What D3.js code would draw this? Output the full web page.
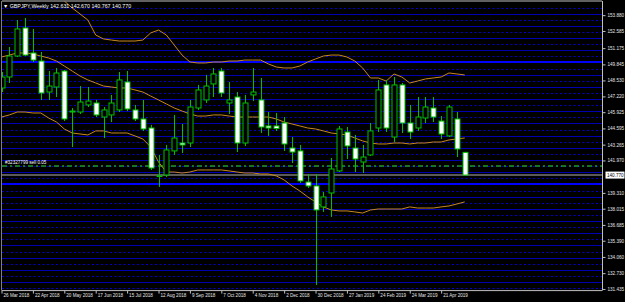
<!DOCTYPE html>
<html>
<head>
<meta charset="utf-8">
<script src="https://cdn.jsdelivr.net/npm/d3@7"></script>
<style>
  body { margin: 0; background: #000; }
  svg { display: block; }
  text { font-family: "Liberation Sans", Arial, sans-serif; }
</style>
</head>
<body>
<svg width="625" height="302"></svg>
<script>
// weekly GBPJPY candles, week 0 = 25 Mar 2018
const opens = [147.91,148.81,150.53,152.83,150.78,150.12,147.58,147.99,149.30,146.02,
  145.94,146.52,146.68,145.53,145.70,146.11,148.40,146.11,145.37,144.63,
  140.70,140.78,142.75,143.40,143.40,146.27,146.93,148.24,149.30,146.68,
  147.17,143.40,147.34,146.93,144.80,144.80,145.04,142.99,142.75,140.20,
  139.88,138.16,139.30,141.11,144.30,142.99,141.84,142.42,144.63,148.16,
  143.89,148.16,145.04,144.63,145.45,146.27,145.20,143.98,145.37,142.631];
const highs = [149.22,151.27,153.48,153.65,152.75,150.86,149.30,149.55,149.39,146.27,
  148.07,147.99,146.93,146.35,147.34,149.22,149.30,146.52,146.93,144.88,
  142.42,143.24,145.70,144.96,146.93,148.16,148.98,149.55,149.55,148.40,
  147.58,147.34,149.55,148.73,145.94,145.86,145.53,143.89,143.24,140.86,
  140.86,139.39,142.17,144.80,144.71,144.06,143.24,145.04,148.57,148.57,
  148.81,148.32,146.52,147.17,147.17,147.17,145.61,146.52,145.94,142.670];
const lows = [147.58,148.32,150.45,150.53,150.04,146.93,146.93,147.17,145.20,143.07,
  145.78,146.35,145.53,143.81,145.12,145.94,146.02,145.20,144.39,141.19,
  139.80,140.61,142.42,142.58,143.07,146.11,146.68,147.17,147.17,145.78,
  142.66,143.16,146.84,144.22,143.98,144.39,142.75,141.76,140.12,139.71,
  131.76,137.75,137.34,141.02,142.09,141.02,140.94,142.34,144.30,144.30,
  143.48,144.22,143.73,144.39,145.04,145.12,143.73,143.89,142.25,140.767];
const closes = [148.81,150.53,152.75,150.61,150.20,147.50,148.07,149.14,145.37,145.94,
  146.76,146.84,145.70,146.11,146.68,148.57,146.19,145.37,144.55,141.35,
  140.66,142.83,143.81,143.24,146.35,147.75,148.07,149.06,147.50,146.93,
  143.40,146.68,147.58,144.71,144.63,144.59,143.32,142.66,140.29,139.88,
  137.91,138.98,141.27,144.55,143.16,142.09,142.25,144.39,147.75,144.63,
  148.16,145.04,144.30,145.53,146.35,145.53,144.14,146.35,142.91,140.770];

// Bollinger bands (upper starts above the window)
const bbUpper = [null,null,null,null,null,null,null,155.6,155.04,154.47,
  153.98,153.48,152.25,151.93,151.84,151.76,151.76,151.76,151.84,152.42,
  152.66,152.25,151.43,150.61,150.04,149.96,149.96,150.04,150.04,150.12,
  150.12,150.20,150.20,150.20,149.88,149.63,149.55,149.55,149.71,150.04,
  150.29,150.53,150.61,150.61,150.45,150.12,149.55,148.73,148.73,148.48,
  149.06,148.81,148.32,148.48,148.65,148.73,148.81,149.14,149.06,148.98];
const bbMiddle = [150.45,150.61,150.78,150.78,150.70,150.53,150.37,150.12,149.71,149.30,
  148.89,148.57,148.32,148.07,147.99,147.91,147.91,147.75,147.58,147.25,
  146.93,146.60,146.27,146.02,145.78,145.61,145.61,145.70,145.70,145.61,
  145.53,145.53,145.53,145.53,145.53,145.37,145.12,144.96,144.80,144.63,
  144.55,144.39,144.22,144.14,144.06,143.81,143.57,143.40,143.32,143.32,
  143.40,143.40,143.32,143.40,143.40,143.48,143.48,143.65,143.73,143.81];
const bbLower = [145.53,145.70,145.94,145.94,145.86,145.86,145.45,145.12,144.55,144.22,
  144.14,144.06,144.39,144.39,144.22,144.22,144.22,143.98,143.73,143.07,
  141.84,141.02,141.02,140.94,141.02,141.19,141.19,141.19,141.19,141.11,
  141.02,140.94,140.94,140.86,140.86,140.70,140.37,139.88,139.47,138.98,
  138.57,138.16,137.91,137.83,137.83,137.75,137.66,137.91,137.99,137.99,
  137.99,137.99,138.16,138.07,138.07,138.07,138.16,138.24,138.40,138.57];

const priceTicks = [153.880,152.585,151.175,149.845,148.530,147.220,145.925,144.595,143.265,
  141.970,139.310,138.015,136.685,135.390,134.060,132.730,131.435];
const timeTickIdx = [0,4,8,12,16,20,24,28,32,36,40,44,48,52,56];
const timeTickLabels = ['26 Mar 2018','22 Apr 2018','20 May 2018','17 Jun 2018','15 Jul 2018',
  '12 Aug 2018','9 Sep 2018','7 Oct 2018','4 Nov 2018','2 Dec 2018','30 Dec 2018',
  '27 Jan 2019','24 Feb 2019','24 Mar 2019','21 Apr 2019'];

const solidLevels = d3.range(132, 155, 1);
const dottedLevels = d3.range(131.5, 155, 1);
const thickLevels = [140, 150];
const bidPrice = 140.770;
const orderPrice = 141.52;

const svg = d3.select('svg');
const plotL = 2, plotR = 602, plotT = 1.5, plotB = 290.6;
const fs = '4.6px';

svg.append('rect').attr('width', 625).attr('height', 302).attr('fill', '#000');

const x = d3.scaleLinear().domain([0, 59]).range([1.5, 464.7]);
const y = d3.scaleLinear().domain([131.3, 155.0]).range([plotB, plotT]);

svg.append('clipPath').attr('id', 'plot')
  .append('rect').attr('x', plotL).attr('y', plotT).attr('width', plotR - plotL).attr('height', plotB - plotT);

const plot = svg.append('g').attr('clip-path', 'url(#plot)');

// price level lines
plot.selectAll('line.dot').data(dottedLevels).enter().append('line')
  .attr('x1', plotL).attr('x2', plotR)
  .attr('y1', d => Math.round(y(d)) + 0.5).attr('y2', d => Math.round(y(d)) + 0.5)
  .attr('stroke', '#0000c8').attr('stroke-dasharray', '2,2.5');

plot.selectAll('line.solid').data(solidLevels.filter(d => !thickLevels.includes(d))).enter().append('line')
  .attr('x1', plotL).attr('x2', plotR)
  .attr('y1', d => Math.round(y(d)) + 0.5).attr('y2', d => Math.round(y(d)) + 0.5)
  .attr('stroke', '#0000b0');

plot.selectAll('line.thick').data(thickLevels).enter().append('line')
  .attr('x1', plotL).attr('x2', plotR)
  .attr('y1', d => Math.round(y(d))).attr('y2', d => Math.round(y(d)))
  .attr('stroke', '#0000ff').attr('stroke-width', 2);

// order line and bid line
plot.append('line')
  .attr('x1', plotL).attr('x2', plotR)
  .attr('y1', y(orderPrice)).attr('y2', y(orderPrice))
  .attr('stroke', '#1f9a1f').attr('stroke-width', 1.5).attr('stroke-dasharray', '5,3,2,3');

plot.append('line')
  .attr('x1', plotL).attr('x2', plotR)
  .attr('y1', y(bidPrice)).attr('y2', y(bidPrice))
  .attr('stroke', '#5a5a5a').attr('stroke-width', 2);

// bollinger bands
const band = d3.line().defined(d => d != null).x((d, i) => x(i)).y(d => y(d));
[bbUpper, bbMiddle, bbLower].forEach(s => {
  plot.append('path').attr('d', band(s))
    .attr('fill', 'none').attr('stroke', '#c8871f').attr('stroke-width', 1);
});

// candles
const green = '#00c000';
const candles = plot.selectAll('g.candle').data(opens).enter().append('g');

candles.append('line')
  .attr('x1', (d, i) => Math.round(x(i)) + 0.5).attr('x2', (d, i) => Math.round(x(i)) + 0.5)
  .attr('y1', (d, i) => y(highs[i])).attr('y2', (d, i) => y(lows[i]))
  .attr('stroke', green);

candles.append('rect')
  .attr('x', (d, i) => Math.round(x(i)) - 2)
  .attr('width', 5)
  .attr('y', (d, i) => y(Math.max(d, closes[i])))
  .attr('height', (d, i) => Math.max(0.5, Math.abs(y(d) - y(closes[i]))))
  .attr('fill', (d, i) => closes[i] < d ? '#fff' : '#000')
  .attr('stroke', green).attr('stroke-width', 1);

// frame
svg.append('line').attr('x1', plotL).attr('x2', plotR).attr('y1', 1).attr('y2', 1).attr('stroke', '#c0c0c0');
svg.append('line').attr('x1', 1.5).attr('x2', 1.5).attr('y1', 1).attr('y2', plotB).attr('stroke', '#808080');

// right price axis
const yAxis = svg.append('g').attr('transform', `translate(${plotR + 0.5},0)`)
  .call(d3.axisRight(y).tickValues(priceTicks).tickSize(3).tickPadding(2).tickFormat(d3.format('.3f')));
yAxis.select('.domain').attr('stroke', '#c0c0c0').attr('d', `M0,1V${plotB}`);
yAxis.selectAll('.tick line').attr('stroke', '#c0c0c0');
yAxis.selectAll('.tick text').attr('fill', '#e6e6e6').style('font-size', fs);

// current price label
const bid = svg.append('g').attr('transform', `translate(${plotR + 2},${y(bidPrice)})`);
bid.append('rect').attr('x', 1.5).attr('y', -3.5).attr('width', 19).attr('height', 7).attr('fill', '#fff');
bid.append('text').attr('x', 3).attr('dy', '0.35em').attr('fill', '#000').style('font-size', fs)
  .text(d3.format('.3f')(bidPrice));

// bottom time axis
const xAxis = svg.append('g').attr('transform', `translate(0,${plotB})`)
  .call(d3.axisBottom(x).tickValues(timeTickIdx).tickSize(3).tickFormat((d, i) => timeTickLabels[i]));
xAxis.select('.domain').attr('stroke', '#c0c0c0').attr('d', `M${plotL},0H${plotR}`);
xAxis.selectAll('.tick line').attr('stroke', '#c0c0c0');
xAxis.selectAll('.tick text').attr('fill', '#e6e6e6').style('font-size', fs)
  .attr('text-anchor', 'start').attr('x', 1.5).attr('y', 3.5);

// title and order label
svg.append('text').attr('x', 3).attr('y', 7.5).attr('fill', '#fff').style('font-size', '5.3px')
  .text('\u25BC GBPJPY,Weekly  142.631 142.670 140.767 140.770');
svg.append('text').attr('x', 5).attr('y', y(orderPrice) - 2).attr('fill', '#fff').style('font-size', fs)
  .text('#32327799 sell 0.05');
</script>
</body>
</html>
